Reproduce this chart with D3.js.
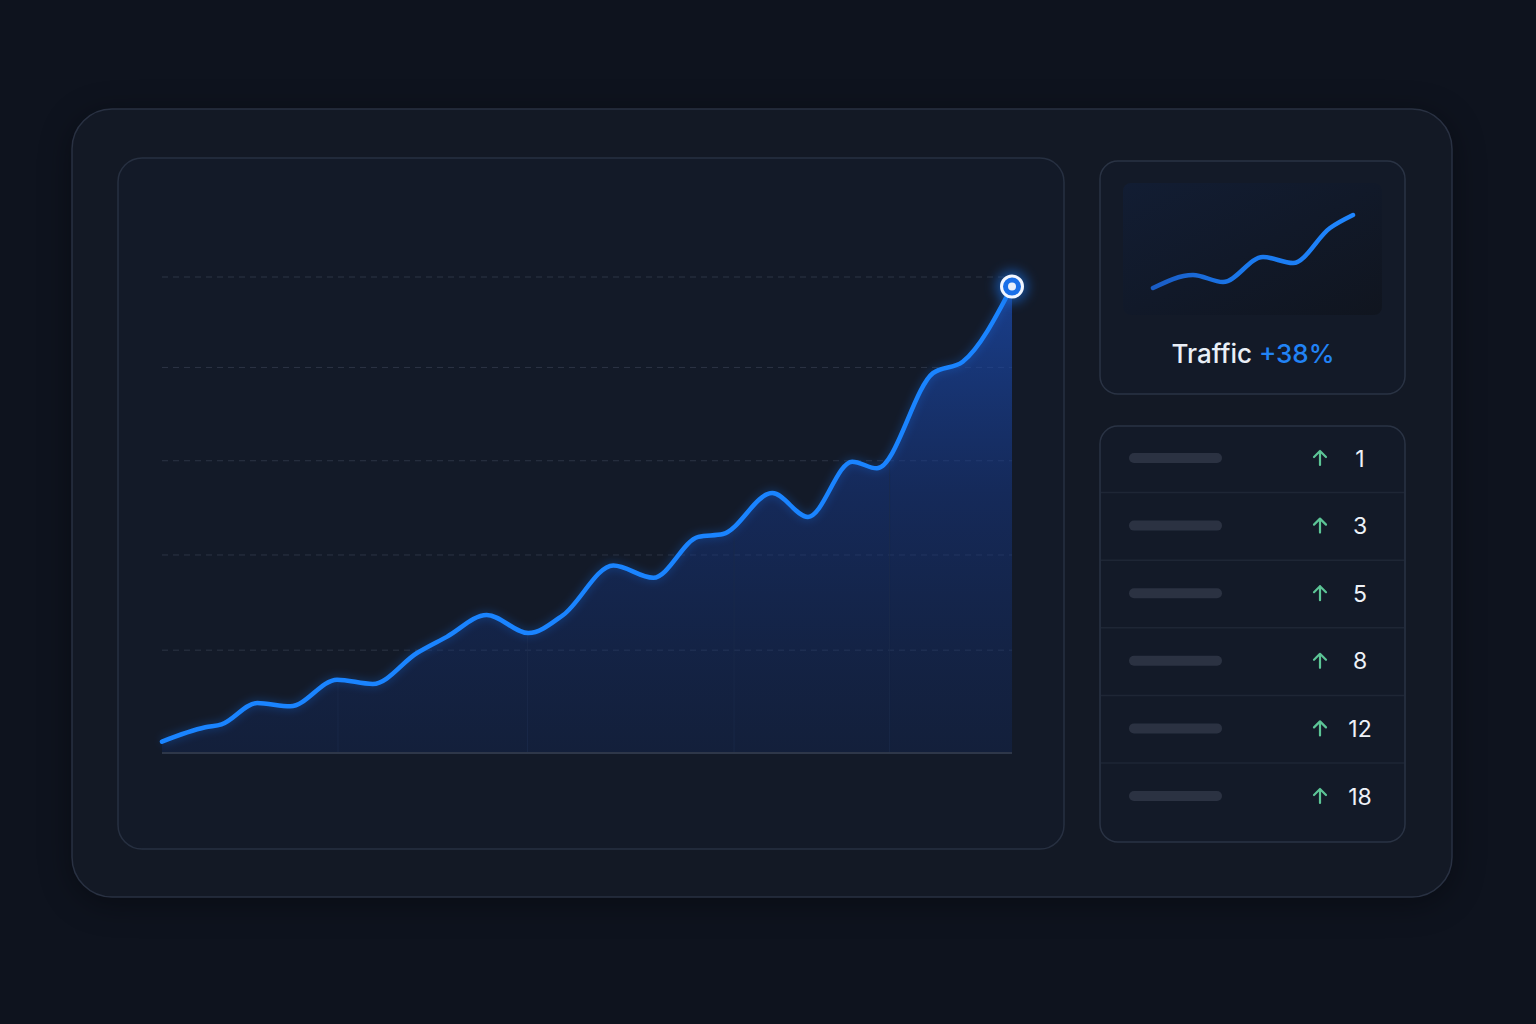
<!DOCTYPE html>
<html lang="en">
<head>
<meta charset="utf-8">
<title>Traffic dashboard</title>
<style>
  html, body { margin: 0; padding: 0; background: #0e131e; }
  svg { display: block; font-family: "Inter", "Roboto", sans-serif; }
</style>
</head>
<body>
<div id="chart"></div>
<script src="https://d3js.org/d3.v7.min.js"></script>
<script>
// main series (x position along the period, value)
const mainT = [0, 5.1, 7, 11.2, 15.1, 20.6, 24.8, 30, 33.5, 38.2, 43.1, 47.2, 53.1, 57.8, 63.1, 66, 71.8, 76, 81.2, 84.1, 90.7, 94.2, 100];
const mainV = [1.2, 2.7, 3.0, 5.25, 4.9, 7.7, 7.25, 10.5, 12.2, 14.5, 12.6, 14.5, 19.7, 18.4, 22.7, 23, 27.3, 24.8, 30.6, 29.9, 39.9, 41.1, 49];
const gridVals = [10.8, 20.8, 30.7, 40.5, 50];
const xMarks = [20.7, 43, 67.3, 85.6];

// sparkline
const sparkT = [0, 40, 70, 110, 140, 177, 200];
const sparkV = [12, 25, 18, 43, 37, 72, 85];
const trafficLabel = "Traffic";
const trafficChange = "+38%";

// ranking list
const listValues = [1, 3, 5, 8, 12, 18];

const W = 1536, H = 1024;
const svg = d3.select("#chart").append("svg")
  .attr("width", W).attr("height", H);

const defs = svg.append("defs");

// blur used for the card shadow
const sh = defs.append("filter").attr("id", "shadow")
  .attr("color-interpolation-filters", "sRGB")
  .attr("x", "-10%").attr("y", "-10%").attr("width", "120%").attr("height", "120%");
sh.append("feGaussianBlur").attr("stdDeviation", 16);

const glow = defs.append("filter").attr("id", "glow")
  .attr("color-interpolation-filters", "sRGB")
  .attr("x", "-20%").attr("y", "-20%").attr("width", "140%").attr("height", "140%");
glow.append("feGaussianBlur").attr("stdDeviation", 4);

const dotGlow = defs.append("filter").attr("id", "dotglow")
  .attr("color-interpolation-filters", "sRGB")
  .attr("x", "-100%").attr("y", "-100%").attr("width", "300%").attr("height", "300%");
dotGlow.append("feGaussianBlur").attr("stdDeviation", 6);

// area gradient
const ag = defs.append("linearGradient").attr("id", "areaGrad")
  .attr("x1", 0).attr("y1", 0).attr("x2", 0).attr("y2", 1);
ag.append("stop").attr("offset", "0%").attr("stop-color", "#1c4fb8").attr("stop-opacity", 0.7);
ag.append("stop").attr("offset", "45%").attr("stop-color", "#17398a").attr("stop-opacity", 0.5);
ag.append("stop").attr("offset", "100%").attr("stop-color", "#132c66").attr("stop-opacity", 0.3);

const sg = defs.append("linearGradient").attr("id", "sparkGrad")
  .attr("x1", 0).attr("y1", 0).attr("x2", 1).attr("y2", 0);
sg.append("stop").attr("offset", "0%").attr("stop-color", "#1a5cc4");
sg.append("stop").attr("offset", "45%").attr("stop-color", "#1a78ec");
sg.append("stop").attr("offset", "100%").attr("stop-color", "#1f86ff");

const panelGrad = defs.append("linearGradient").attr("id", "panelGrad")
  .attr("x1", 0).attr("y1", 0).attr("x2", 1).attr("y2", 1);
panelGrad.append("stop").attr("offset", "0%").attr("stop-color", "#121d33");
panelGrad.append("stop").attr("offset", "100%").attr("stop-color", "#10151f");

// outer card shadow + card
svg.append("rect")
  .attr("x", 72).attr("y", 115).attr("width", 1380).attr("height", 788)
  .attr("rx", 40).attr("fill", "#05070c").attr("opacity", 0.6)
  .attr("filter", "url(#shadow)");
svg.append("rect")
  .attr("x", 72).attr("y", 109).attr("width", 1380).attr("height", 788)
  .attr("rx", 40).attr("fill", "#131925")
  .attr("stroke", "#293142").attr("stroke-width", 1.5);

// main chart card
svg.append("rect")
  .attr("x", 118).attr("y", 158).attr("width", 946).attr("height", 691)
  .attr("rx", 24).attr("fill", "#131a28")
  .attr("stroke", "#273041").attr("stroke-width", 1.5);

// scales
const x = d3.scaleLinear().domain([0, 100]).range([162, 1012]);
const y = d3.scaleLinear().domain([0, 50]).range([753, 277]);

const g = svg.append("g");

// gridlines
g.selectAll(".grid").data(gridVals).join("line")
  .attr("x1", x(0)).attr("x2", x(100))
  .attr("y1", d => y(d)).attr("y2", d => y(d))
  .attr("stroke", "#2c3444").attr("stroke-width", 1)
  .attr("stroke-dasharray", "6,5");

const pts = mainT.map((t, i) => [t, mainV[i]]);

// area
const area = d3.area()
  .x(d => x(d[0])).y0(y(0)).y1(d => y(d[1]))
  .curve(d3.curveMonotoneX);
g.append("path").datum(pts)
  .attr("d", area).attr("fill", "url(#areaGrad)");

defs.append("clipPath").attr("id", "areaClip")
  .append("path").datum(pts).attr("d", area);

// faint vertical markers, kept under the curve
g.selectAll(".vmark").data(xMarks).join("line")
  .attr("x1", d => x(d)).attr("x2", d => x(d))
  .attr("y1", y(0)).attr("y2", y(46))
  .attr("stroke", "#1c2c4c").attr("stroke-width", 1).attr("opacity", 0.7)
  .attr("clip-path", "url(#areaClip)");

// baseline
g.append("line")
  .attr("x1", x(0)).attr("x2", x(100))
  .attr("y1", y(0)).attr("y2", y(0))
  .attr("stroke", "#2e3749").attr("stroke-width", 2);

// line
const line = d3.line()
  .x(d => x(d[0])).y(d => y(d[1]))
  .curve(d3.curveMonotoneX);
g.append("path").datum(pts)
  .attr("d", line).attr("fill", "none")
  .attr("stroke", "#1a6fe0").attr("stroke-width", 7).attr("opacity", 0.3)
  .attr("filter", "url(#glow)");
g.append("path").datum(pts)
  .attr("d", line).attr("fill", "none")
  .attr("stroke", "#1a84ff").attr("stroke-width", 4.5)
  .attr("stroke-linecap", "round");

// end marker
const last = pts[pts.length - 1];
g.append("circle").attr("cx", x(last[0])).attr("cy", y(last[1]))
  .attr("r", 16).attr("fill", "#1a6fe0").attr("opacity", 0.6).attr("filter", "url(#dotglow)");
g.append("circle").attr("cx", x(last[0])).attr("cy", y(last[1]))
  .attr("r", 10.5).attr("fill", "#1a6fe8")
  .attr("stroke", "#f2f6ff").attr("stroke-width", 3);
g.append("circle").attr("cx", x(last[0])).attr("cy", y(last[1]))
  .attr("r", 4).attr("fill", "#e8eefa");

// sparkline card
svg.append("rect")
  .attr("x", 1100).attr("y", 161).attr("width", 305).attr("height", 233)
  .attr("rx", 18).attr("fill", "#131a28")
  .attr("stroke", "#2a3344").attr("stroke-width", 1.5);
svg.append("rect")
  .attr("x", 1123).attr("y", 183).attr("width", 259).attr("height", 132)
  .attr("rx", 8).attr("fill", "url(#panelGrad)");

const sx = d3.scaleLinear().domain([0, 200]).range([1153, 1353]);
const sy = d3.scaleLinear().domain([0, 100]).range([300, 200]);
svg.append("path").datum(sparkT.map((t, i) => [t, sparkV[i]]))
  .attr("d", d3.line().x(d => sx(d[0])).y(d => sy(d[1])).curve(d3.curveMonotoneX))
  .attr("fill", "none").attr("stroke", "url(#sparkGrad)")
  .attr("stroke-width", 4.5).attr("stroke-linecap", "round");

const tt = svg.append("text")
  .attr("x", 1253).attr("y", 363)
  .attr("text-anchor", "middle")
  .attr("font-size", 26).attr("font-weight", 500);
tt.append("tspan").attr("fill", "#e9eff7").text(trafficLabel + " ");
tt.append("tspan").attr("fill", "#2183f5").text(trafficChange);

// list card
const listTop = 426, rowH = 67.6;
svg.append("rect")
  .attr("x", 1100).attr("y", listTop).attr("width", 305).attr("height", 416)
  .attr("rx", 18).attr("fill", "#131a28")
  .attr("stroke", "#2a3344").attr("stroke-width", 1.5);

const rows = svg.append("g").selectAll("g").data(listValues).join("g")
  .attr("transform", (d, i) => `translate(0,${listTop + 32 + i * rowH})`);

rows.filter((d, i) => i > 0).append("line")
  .attr("x1", 1101).attr("x2", 1404)
  .attr("y1", -33).attr("y2", -33)
  .attr("stroke", "#1e2635").attr("stroke-width", 1.5);

rows.append("rect")
  .attr("x", 1129).attr("y", -5).attr("width", 93).attr("height", 10)
  .attr("rx", 5).attr("fill", "#2b3242");

// up arrow
rows.append("path")
  .attr("d", "M1320,7 L1320,-7 M1314,-1 L1320,-7 L1326,-1")
  .attr("fill", "none").attr("stroke", "#5cc596")
  .attr("stroke-width", 2.2).attr("stroke-linecap", "round").attr("stroke-linejoin", "round");

rows.append("text")
  .attr("x", 1360).attr("y", 8.5)
  .attr("text-anchor", "middle")
  .attr("font-size", 23).attr("fill", "#eef2f8")
  .text(d => d);
</script>
</body>
</html>
